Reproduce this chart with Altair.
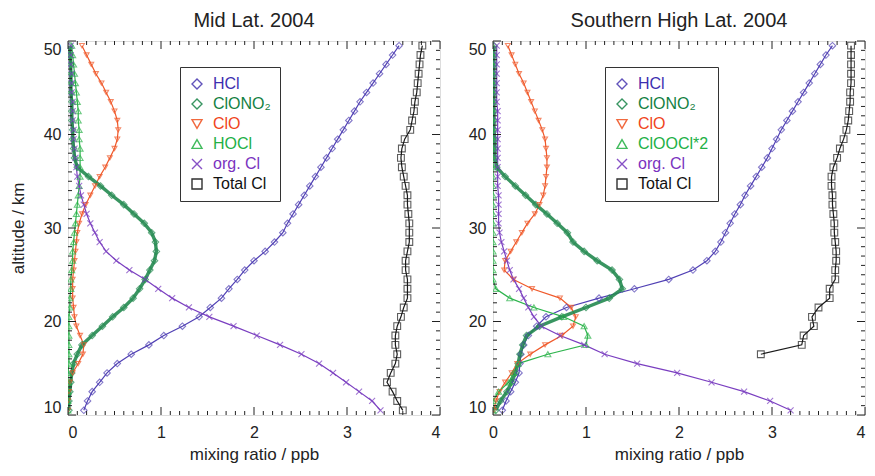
import altair as alt
import pandas as pd

# ---------------- data (altitude grid, km) ----------------
alt_grid = [10.5 + i for i in range(40)]

# Mid Lat. 2004
ml_hcl = [0.17, 0.21, 0.26, 0.34, 0.42, 0.53, 0.68, 0.87, 1.03, 1.23,
          1.41, 1.53, 1.65, 1.73, 1.82, 1.90, 2.00, 2.12, 2.22, 2.31,
          2.36, 2.42, 2.48, 2.54, 2.60, 2.66, 2.72, 2.78, 2.84, 2.90,
          2.96, 3.02, 3.08, 3.14, 3.21, 3.28, 3.35, 3.42, 3.49, 3.56]
ml_clono2 = [0.01, 0.01, 0.02, 0.03, 0.04, 0.06, 0.10, 0.15, 0.26, 0.37,
             0.48, 0.60, 0.70, 0.77, 0.83, 0.88, 0.93, 0.95, 0.94, 0.90,
             0.82, 0.71, 0.60, 0.47, 0.35, 0.22, 0.10, 0.07, 0.06, 0.05,
             0.05, 0.04, 0.04, 0.04, 0.03, 0.03, 0.03, 0.03, 0.02, 0.02]
ml_clo = [0.00, 0.00, 0.01, 0.02, 0.05, 0.11, 0.16, 0.17, 0.13, 0.09,
          0.07, 0.06, 0.05, 0.05, 0.05, 0.06, 0.07, 0.08, 0.09, 0.10,
          0.12, 0.15, 0.19, 0.24, 0.29, 0.34, 0.40, 0.45, 0.50, 0.53,
          0.54, 0.53, 0.50, 0.46, 0.41, 0.36, 0.30, 0.25, 0.20, 0.15]
ml_hocl = [0.00, 0.00, 0.00, 0.00, 0.00, 0.01, 0.01, 0.01, 0.01, 0.01,
           0.01, 0.02, 0.02, 0.03, 0.03, 0.04, 0.05, 0.05, 0.06, 0.07,
           0.08, 0.09, 0.10, 0.11, 0.12, 0.13, 0.13, 0.13, 0.13, 0.12,
           0.12, 0.11, 0.11, 0.10, 0.09, 0.08, 0.07, 0.06, 0.05, 0.04]
ml_org = [3.36, 3.27, 3.13, 2.99, 2.85, 2.70, 2.51, 2.28, 2.03, 1.78,
          1.52, 1.30, 1.12, 0.97, 0.83, 0.66, 0.52, 0.41, 0.34, 0.29,
          0.24, 0.20, 0.17, 0.14, 0.12, 0.10, 0.09, 0.08, 0.07, 0.06,
          0.06, 0.05, 0.05, 0.05, 0.04, 0.04, 0.04, 0.03, 0.03, 0.03]
ml_tot = [3.60, 3.54, 3.49, 3.43, 3.47, 3.52, 3.54, 3.52, 3.52, 3.54,
          3.58, 3.61, 3.65, 3.65, 3.65, 3.63, 3.63, 3.65, 3.67, 3.67,
          3.67, 3.66, 3.65, 3.65, 3.63, 3.61, 3.59, 3.58, 3.59, 3.62,
          3.68, 3.70, 3.72, 3.73, 3.75, 3.76, 3.77, 3.78, 3.79, 3.81]

# Southern High Lat. 2004
sh_hcl = [0.10, 0.14, 0.19, 0.24, 0.28, 0.29, 0.30, 0.33, 0.38, 0.47,
          0.57, 0.79, 1.14, 1.52, 1.89, 2.15, 2.30, 2.39, 2.45, 2.50,
          2.55, 2.60, 2.66, 2.71, 2.77, 2.83, 2.89, 2.95, 3.00, 3.05,
          3.10, 3.16, 3.22, 3.28, 3.34, 3.40, 3.46, 3.52, 3.58, 3.65]
sh_clono2 = [0.03, 0.08, 0.15, 0.20, 0.24, 0.27, 0.29, 0.32, 0.36, 0.50,
             0.74, 1.00, 1.25, 1.39, 1.36, 1.28, 1.12, 0.98, 0.86, 0.80,
             0.69, 0.58, 0.46, 0.35, 0.24, 0.13, 0.04, 0.02, 0.02, 0.02,
             0.01, 0.01, 0.01, 0.01, 0.01, 0.01, 0.01, 0.01, 0.01, 0.01]
sh_clo = [0.01, 0.03, 0.07, 0.13, 0.20, 0.26, 0.40, 0.56, 0.74, 0.86,
          0.89, 0.84, 0.72, 0.42, 0.22, 0.12, 0.13, 0.19, 0.25, 0.31,
          0.37, 0.45, 0.50, 0.54, 0.56, 0.57, 0.58, 0.58, 0.57, 0.56,
          0.53, 0.49, 0.45, 0.41, 0.37, 0.33, 0.28, 0.24, 0.20, 0.16]
sh_cloocl = [0.00, 0.00, 0.06, 0.17, 0.22, 0.27, 0.59, 1.00, 1.02, 0.98,
             0.76, 0.44, 0.18, 0.03, 0.00, 0.00, 0.00, 0.00, 0.00, 0.00,
             0.00, 0.00, 0.00, 0.00, 0.00, 0.00, 0.00, 0.00, 0.00, 0.00,
             0.00, 0.00, 0.00, 0.00, 0.00, 0.00, 0.00, 0.00, 0.00, 0.00]
sh_org = [3.20, 2.98, 2.70, 2.35, 1.98, 1.55, 1.20, 0.98, 0.72, 0.52,
          0.44, 0.38, 0.33, 0.28, 0.22, 0.18, 0.15, 0.12, 0.09, 0.07,
          0.06, 0.06, 0.06, 0.06, 0.05, 0.05, 0.05, 0.05, 0.05, 0.05,
          0.05, 0.05, 0.05, 0.04, 0.04, 0.04, 0.04, 0.04, 0.04, 0.04]
sh_tot = [None, None, None, None, None, None, 2.88, 3.32, 3.34, 3.45,
          3.43, 3.50, 3.62, 3.62, 3.68, 3.68, 3.69, 3.69, 3.68, 3.67,
          3.67, 3.66, 3.65, 3.65, 3.64, 3.64, 3.66, 3.70, 3.73, 3.77,
          3.80, 3.82, 3.83, 3.84, 3.84, 3.85, 3.85, 3.85, 3.85, 3.85]

left_names = ["HCl", "ClONO\u2082", "ClO", "HOCl", "org. Cl", "Total Cl"]
right_names = ["HCl", "ClONO\u2082", "ClO", "ClOOCl*2", "org. Cl", "Total Cl"]
left_series = [ml_hcl, ml_clono2, ml_clo, ml_hocl, ml_org, ml_tot]
right_series = [sh_hcl, sh_clono2, sh_clo, sh_cloocl, sh_org, sh_tot]

x_major = [0, 1, 2, 3, 4]
x_minor = [i / 10 for i in range(41) if i % 10]
y_major = [10, 20, 30, 40, 50]
y_minor = [k for k in range(11, 50) if k % 10]

colors = ["#5040b4", "#238a50", "#f0592a", "#2db44c", "#7a3ec0", "#1a1a1a"]
label_colors = ["#3d2fb0", "#138043", "#f0441c", "#22b046", "#7a32c0", "#111111"]
shapes = ["diamond", "diamond", "triangle-down", "triangle-up",
          "M-1,-1L1,1M-1,1L1,-1", "square"]

W, H = 372, 374
FONT = "Liberation Sans"
THICK = "ClONO\u2082"


def long_df(names, series):
    rows = []
    for name, vals in zip(names, series):
        for a, v in zip(alt_grid, vals):
            if v is not None:
                rows.append({"series": name, "alt": a, "val": v})
    return pd.DataFrame(rows)


def panel(title, names, series, first):
    df = long_df(names, series)
    xs = alt.Scale(domain=[0, 4], nice=False, zero=False)
    ys = alt.Scale(domain=[10, 50], nice=False, zero=False)
    cscale = alt.Scale(domain=names, range=colors)
    expr = "[" + ",".join("'%s'" % c for c in label_colors) + "][indexof([" + \
        ",".join("'%s'" % n for n in names) + "], datum.label)]"

    xkw = {}
    if not first:
        xkw["labelAlign"] = {"condition": {"test": "datum.value == 4", "value": "right"},
                             "value": "center"}
    xax = alt.Axis(values=x_major, ticks=False, domain=False, grid=False,
                   labelFontSize=16, labelPadding=9, labelColor="#222",
                   title="mixing ratio / ppb", titleFontSize=17,
                   titleFontWeight="normal", titlePadding=6, titleColor="#222",
                   labelFont=FONT, titleFont=FONT, format="d", **xkw)
    yax = alt.Axis(values=y_major, ticks=False, domain=False, grid=False,
                   labelFontSize=16, labelPadding=7, labelColor="#222",
                   labelFlush=True,
                   title="altitude / km" if first else "",
                   titleFontSize=17, titleFontWeight="normal",
                   titlePadding=16, titleColor="#222",
                   labelFont=FONT, titleFont=FONT, format="d")
    leg = alt.Legend(
        orient="none", legendX=112, legendY=26, title=None,
        strokeColor="#333", fillColor="white", padding=9,
        labelFontSize=16, labelFont=FONT, rowPadding=4, labelOffset=8,
        symbolSize=100, symbolStrokeWidth=1.4,
        labelColor=alt.ExprRef(expr=expr))

    X = alt.X("val:Q", scale=xs, axis=xax)
    Y = alt.Y("alt:Q", scale=ys, axis=yax)
    C = alt.Color("series:N", scale=cscale, legend=leg)

    base = alt.Chart(df)
    thin = base.transform_filter(alt.datum.series != THICK).mark_line(
        clip=True, strokeWidth=1.2).encode(
        x=X, y=Y, color=C, detail="series:N", order=alt.Order("alt:Q"))
    thick = base.transform_filter(alt.datum.series == THICK).mark_line(
        clip=True, strokeWidth=3.4, opacity=0.9).encode(
        x=X, y=Y, color=C, detail="series:N", order=alt.Order("alt:Q"))
    size_enc = {"condition": [
        {"test": "datum.series == 'Total Cl'", "value": 46},
        {"test": "datum.series == 'ClO'", "value": 24},
        {"test": "datum.series == 'HCl' || datum.series == '%s'" % THICK, "value": 42},
    ], "value": 36}
    pts = base.mark_point(filled=False, strokeWidth=1.1, clip=True).encode(
        x=X, y=Y, color=C,
        shape=alt.Shape("series:N", scale=alt.Scale(domain=names, range=shapes),
                        legend=leg),
        size=size_enc,
    )

    layers = [thin, thick, pts]
    for vals, ln in ((x_major, 8), (x_minor, 4)):
        d = pd.DataFrame({"v": vals})
        XT = alt.X("v:Q", scale=xs, axis=xax)
        layers.append(alt.Chart(d).mark_rule(color="#222", strokeWidth=1).encode(
            x=XT, y=alt.value(H), y2=alt.value(H - ln)))
        layers.append(alt.Chart(d).mark_rule(color="#222", strokeWidth=1).encode(
            x=XT, y=alt.value(0), y2=alt.value(ln)))
    for vals, ln in ((y_major, 8), (y_minor, 4)):
        d = pd.DataFrame({"v": vals})
        YT = alt.Y("v:Q", scale=ys, axis=yax)
        layers.append(alt.Chart(d).mark_rule(color="#222", strokeWidth=1).encode(
            y=YT, x=alt.value(0), x2=alt.value(ln)))
        layers.append(alt.Chart(d).mark_rule(color="#222", strokeWidth=1).encode(
            y=YT, x=alt.value(W), x2=alt.value(W - ln)))

    return alt.layer(*layers).properties(
        width=W, height=H,
        title=alt.TitleParams(title, fontSize=20, fontWeight="normal",
                              font=FONT, color="#222", offset=10),
    )


left = panel("Mid Lat. 2004", left_names, left_series, True)
right = panel("Southern High Lat. 2004", right_names, right_series, False)

chart = alt.hconcat(left, right, spacing=26).resolve_scale(
    color="independent", shape="independent"
).configure_view(stroke="#222", strokeWidth=1.2).configure(
    background="white", padding={"left": 0, "top": 2, "right": 0, "bottom": 0}
)

chart.save("out.html", embed_options={"renderer": "svg", "actions": False})
